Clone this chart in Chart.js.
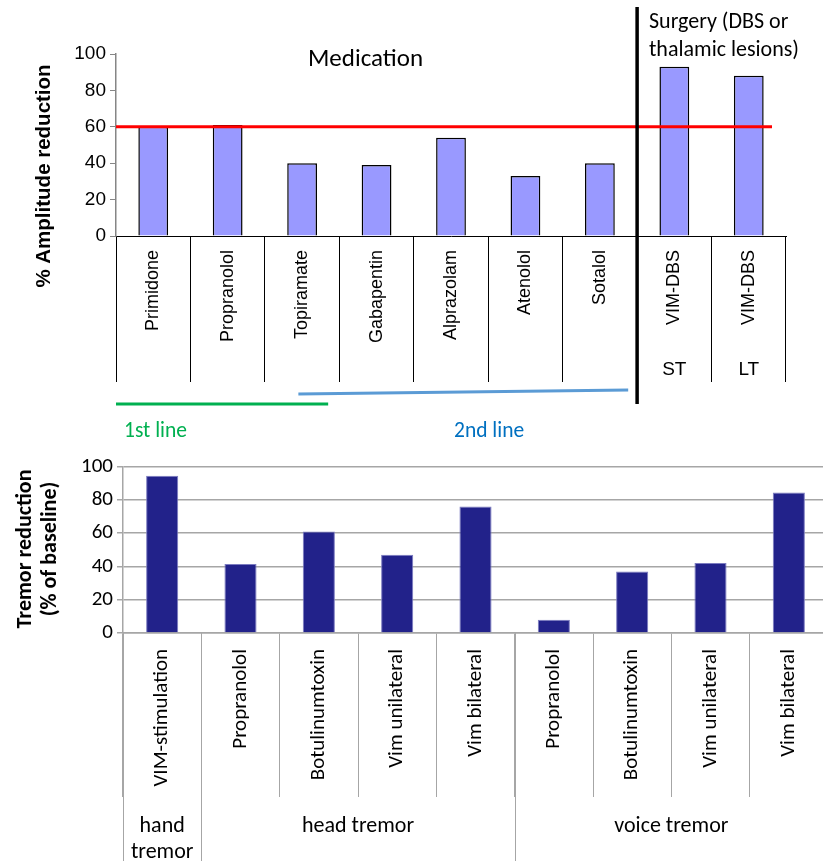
<!DOCTYPE html>
<html>
  <head>
    <script src="https://cdn.jsdelivr.net/npm/chart.js"></script>
    <title>Tremor treatments</title>
    <style>
      body {
        margin: 0;
        background-color: white;
        overflow: hidden;
      }
      #topChart {
        position: absolute;
        left: 0;
        top: 0;
      }
      #bottomChart {
        position: absolute;
        left: 0;
        top: 450px;
      }
    </style>
  </head>
  <body>
    <canvas id="topChart" width="823" height="450"></canvas>
    <canvas id="bottomChart" width="830" height="411"></canvas>

    <script>
      // top chart: essential tremor medication vs surgery
      var medLabels = ['Primidone', 'Propranolol', 'Topiramate', 'Gabapentin', 'Alprazolam', 'Atenolol', 'Sotalol', 'VIM-DBS', 'VIM-DBS'];
      var medValues = [60, 61, 40, 39, 54, 33, 40, 93, 88];
      var medSubLabels = ['', '', '', '', '', '', '', 'ST', 'LT'];
      var medThreshold = 60;
      var topTicks = [0, 20, 40, 60, 80, 100];

      // bottom chart: tremor reduction by tremor type
      var tremorLabels = ['VIM-stimulation', 'Propranolol', 'Botulinumtoxin', 'Vim unilateral', 'Vim bilateral', 'Propranolol', 'Botulinumtoxin', 'Vim unilateral', 'Vim bilateral'];
      var tremorValues = [94.5, 41.5, 61, 47, 76, 8, 37, 42, 84.5];
      var tremorGroups = ['hand|tremor', 'head tremor', 'voice tremor'];
      var tremorGroupStart = [0, 1, 5];
      var tremorGroupEnd = [0, 4, 8];
      var bottomTicks = [0, 20, 40, 60, 80, 100];

      var ARIAL = '"Liberation Sans", Arial, sans-serif';
      var CALIBRI = 'Carlito, Lato, sans-serif';

      Chart.defaults.color = '#000';

      // extra drawings for the top chart
      var topExtras = {
        id: 'topExtras',
        afterDraw: function(chart) {
          var ctx = chart.ctx;
          var x = chart.scales.x;
          var y = chart.scales.y;
          var area = chart.chartArea;
          ctx.save();

          // red 60% line
          ctx.strokeStyle = '#FF0000';
          ctx.lineWidth = 3;
          ctx.beginPath();
          ctx.moveTo(area.left, y.getPixelForValue(medThreshold));
          ctx.lineTo(area.right - 14, y.getPixelForValue(medThreshold));
          ctx.stroke();

          // medication / surgery divider
          var divX = (x.getPixelForValue(6) + x.getPixelForValue(7)) / 2;
          ctx.strokeStyle = '#000';
          ctx.lineWidth = 3.5;
          ctx.beginPath();
          ctx.moveTo(divX, 7);
          ctx.lineTo(divX, 404);
          ctx.stroke();

          // 1st / 2nd line markers
          ctx.lineWidth = 3;
          ctx.strokeStyle = '#00B050';
          ctx.beginPath();
          ctx.moveTo(x.getPixelForValue(-0.5), 404);
          ctx.lineTo(x.getPixelForValue(2.35), 404);
          ctx.stroke();
          ctx.strokeStyle = '#5B9BD5';
          ctx.beginPath();
          ctx.moveTo(x.getPixelForValue(1.95), 394);
          ctx.lineTo(x.getPixelForValue(6.38), 390);
          ctx.stroke();

          ctx.textBaseline = 'middle';
          ctx.textAlign = 'left';
          ctx.font = '21.5px ' + CALIBRI;
          ctx.fillStyle = '#00B050';
          ctx.fillText('1st line', 124, 432);
          ctx.fillStyle = '#0070C0';
          ctx.fillText('2nd line', 454, 432);

          // section titles
          ctx.fillStyle = '#000';
          ctx.font = '25px ' + CALIBRI;
          ctx.fillText('Medication', 308, 60);
          ctx.font = '22px ' + CALIBRI;
          ctx.fillText('Surgery (DBS or', 649, 22);
          ctx.fillText('thalamic lesions)', 649, 50);

          // ST / LT
          ctx.textAlign = 'center';
          ctx.font = '19px ' + ARIAL;
          for (var i = 0; i < medSubLabels.length; i++) {
            if (medSubLabels[i]) ctx.fillText(medSubLabels[i], x.getPixelForValue(i), 370);
          }

          // y title
          ctx.translate(44, 176);
          ctx.rotate(-Math.PI / 2);
          ctx.font = 'bold 20.5px ' + ARIAL;
          ctx.fillText('% Amplitude reduction', 0, 0);
          ctx.restore();
        }
      };

      new Chart(document.getElementById('topChart'), {
        type: 'bar',
        data: {
          labels: medLabels,
          datasets: [{
            data: medValues,
            backgroundColor: '#9999FF',
            borderColor: '#000',
            borderWidth: 1.5,
            barPercentage: 0.4,
            categoryPercentage: 1
          }]
        },
        options: {
          responsive: false,
          animation: false,
          layout: { padding: { top: 54, right: 37, left: 0, bottom: 0 } },
          plugins: { legend: { display: false }, tooltip: { enabled: false } },
          scales: {
            x: {
              afterFit: function(s) { s.height = 450 - 236; },
              border: { color: '#000', width: 1 },
              grid: { drawOnChartArea: false, color: '#000', tickLength: 146 },
              ticks: {
                autoSkip: false, maxRotation: 90, minRotation: 90, padding: -132,
                font: { family: ARIAL, size: 18 }
              }
            },
            y: {
              min: 0, max: 100,
              afterFit: function(s) { s.width = 116; },
              afterBuildTicks: function(s) { s.ticks = topTicks.map(function(v) { return { value: v }; }); },
              border: { color: '#868686', width: 1.5 },
              grid: { drawOnChartArea: false, color: '#868686', tickLength: 6 },
              ticks: { padding: 4, font: { family: ARIAL, size: 19 } }
            }
          }
        },
        plugins: [topExtras]
      });

      // extra drawings for the bottom chart
      var bottomExtras = {
        id: 'bottomExtras',
        afterDraw: function(chart) {
          var ctx = chart.ctx;
          var x = chart.scales.x;
          var area = chart.chartArea;
          ctx.save();

          // group separators go all the way down
          ctx.strokeStyle = '#A6A6A6';
          ctx.lineWidth = 1;
          for (var g = 0; g < tremorGroups.length; g++) {
            var bx = Math.round(x.getPixelForValue(tremorGroupStart[g] - 0.5)) + 0.5;
            ctx.beginPath();
            ctx.moveTo(bx, area.bottom);
            ctx.lineTo(bx, chart.height);
            ctx.stroke();
          }

          // group names
          ctx.fillStyle = '#000';
          ctx.textAlign = 'center';
          ctx.textBaseline = 'middle';
          ctx.font = '22px ' + CALIBRI;
          for (var j = 0; j < tremorGroups.length; j++) {
            var cx = (x.getPixelForValue(tremorGroupStart[j] - 0.5) + x.getPixelForValue(tremorGroupEnd[j] + 0.5)) / 2;
            var lines = tremorGroups[j].split('|');
            for (var k = 0; k < lines.length; k++) {
              ctx.fillText(lines[k], cx, 376 + k * 26);
            }
          }

          // y title
          ctx.translate(25, 99);
          ctx.rotate(-Math.PI / 2);
          ctx.font = 'bold 22px ' + CALIBRI;
          ctx.fillText('Tremor reduction', 0, 0);
          ctx.fillText('(% of baseline)', 0, 25);
          ctx.restore();
        }
      };

      new Chart(document.getElementById('bottomChart'), {
        type: 'bar',
        data: {
          labels: tremorLabels,
          datasets: [{
            data: tremorValues,
            backgroundColor: '#22228A',
            borderColor: '#7B7BC0',
            borderWidth: 1,
            barPercentage: 0.41,
            categoryPercentage: 1
          }]
        },
        options: {
          responsive: false,
          animation: false,
          layout: { padding: { top: 12, right: 2, left: 0, bottom: 0 } },
          plugins: { legend: { display: false }, tooltip: { enabled: false } },
          scales: {
            x: {
              afterFit: function(s) { s.height = 411 - 183; },
              border: { color: '#A6A6A6', width: 1.5 },
              grid: { drawOnChartArea: false, color: '#A6A6A6', tickLength: 164 },
              ticks: {
                autoSkip: false, maxRotation: 90, minRotation: 90, padding: -148,
                font: { family: CALIBRI, size: 21 }
              }
            },
            y: {
              min: 0, max: 100,
              afterFit: function(s) { s.width = 123; },
              afterBuildTicks: function(s) { s.ticks = bottomTicks.map(function(v) { return { value: v }; }); },
              border: { color: '#A6A6A6', width: 1.5 },
              grid: { color: '#A6A6A6', lineWidth: 1.5, tickLength: 6 },
              ticks: { padding: 4, font: { family: CALIBRI, size: 21 } }
            }
          }
        },
        plugins: [bottomExtras]
      });
    </script>
  </body>
</html>
